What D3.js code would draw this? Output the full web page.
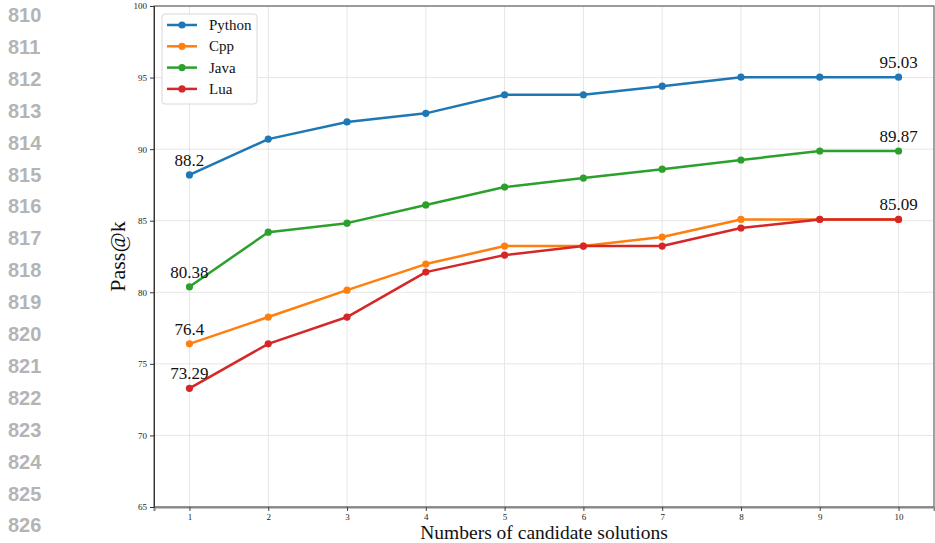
<!DOCTYPE html>
<html lang="en">
<head>
  <meta charset="UTF-8">
  <title>Pass@k vs candidates</title>
  <script src="https://cdn.jsdelivr.net/npm/d3@7"></script>
  <style>
    body { margin: 0; background: #fff; }
    svg { display: block; }
    .tick text { font-family: "Liberation Serif", serif; font-size: 9px; fill: #222; }
    .lineno { font-family: "Liberation Sans", Arial, sans-serif; font-weight: bold; font-size: 20px; fill: #b4b4b4; }
  </style>
</head>
<body>
  <svg id="chart" width="935" height="543"></svg>
  <script>
    // data
    const ks = [1, 2, 3, 4, 5, 6, 7, 8, 9, 10];
    const python = [88.2, 90.7, 91.9, 92.5, 93.8, 93.8, 94.4, 95.03, 95.03, 95.03];
    const cpp    = [76.4, 78.27, 80.15, 81.97, 83.23, 83.23, 83.86, 85.09, 85.09, 85.09];
    const java   = [80.38, 84.2, 84.83, 86.1, 87.35, 87.98, 88.6, 89.24, 89.87, 89.87];
    const lua    = [73.29, 76.4, 78.27, 81.41, 82.6, 83.23, 83.23, 84.49, 85.09, 85.09];
    const yTicks = [65, 70, 75, 80, 85, 90, 95, 100];
    const lineNumbers = d3.range(810, 827);

    const series = [
      { name: 'Python', values: python, color: '#1f77b4' },
      { name: 'Cpp',    values: cpp,    color: '#ff7f0e' },
      { name: 'Java',   values: java,   color: '#2ca02c' },
      { name: 'Lua',    values: lua,    color: '#d62728' }
    ];

    // annotated points: [series index, point index]
    const notes = [[0, 0], [0, 9], [2, 0], [2, 9], [1, 0], [3, 0], [1, 9]];

    const svg = d3.select('#chart');
    const pLeft = 154, pRight = 934, pTop = 6, pBottom = 507;

    // margin line numbers (from the page the figure was cut from)
    svg.selectAll('.lineno')
      .data(lineNumbers)
      .join('text')
        .attr('class', 'lineno')
        .attr('x', 8)
        .attr('y', (d, i) => 22 + i * 31.9)
        .text(d => d);

    const x = d3.scaleLinear().domain([0.55, 10.45]).range([pLeft, pRight]);
    const y = d3.scaleLinear().domain([65, 100]).range([pBottom, pTop]);

    // grid
    const grid = svg.append('g');
    grid.selectAll('.gx').data(ks).join('line')
      .attr('x1', d => x(d)).attr('x2', d => x(d))
      .attr('y1', pTop).attr('y2', pBottom)
      .attr('stroke', '#e6e6e6').attr('stroke-width', 1);
    grid.selectAll('.gy').data(yTicks).join('line')
      .attr('x1', pLeft).attr('x2', pRight)
      .attr('y1', d => y(d)).attr('y2', d => y(d))
      .attr('stroke', '#e6e6e6').attr('stroke-width', 1);

    // frame
    svg.append('rect')
      .attr('x', pLeft).attr('y', pTop)
      .attr('width', pRight - pLeft).attr('height', pBottom - pTop)
      .attr('fill', 'none').attr('stroke', '#444').attr('stroke-width', 1);

    // axes
    const xAxis = svg.append('g')
      .attr('transform', `translate(0,${pBottom})`)
      .call(d3.axisBottom(x).tickValues(ks).tickFormat(d3.format('d')).tickSize(4).tickPadding(3));
    xAxis.select('.domain').attr('stroke', '#888').attr('stroke-width', 2);
    xAxis.selectAll('.tick line').attr('stroke', '#444');

    const yAxis = svg.append('g')
      .attr('transform', `translate(${pLeft},0)`)
      .call(d3.axisLeft(y).tickValues(yTicks).tickSize(4).tickPadding(3));
    yAxis.select('.domain').attr('stroke', '#333');
    yAxis.selectAll('.tick line').attr('stroke', '#333');

    // lines
    const line = d3.line().x((d, i) => x(ks[i])).y(d => y(d));
    series.forEach(s => {
      const g = svg.append('g');
      g.append('path')
        .attr('d', line(s.values))
        .attr('fill', 'none')
        .attr('stroke', s.color)
        .attr('stroke-width', 2.5)
        .attr('stroke-linejoin', 'round');
      g.selectAll('circle').data(s.values).join('circle')
        .attr('cx', (d, i) => x(ks[i]))
        .attr('cy', d => y(d))
        .attr('r', 3.6)
        .attr('fill', s.color);
    });

    // value labels
    svg.selectAll('.note')
      .data(notes)
      .join('text')
        .attr('x', d => x(ks[d[1]]))
        .attr('y', d => y(series[d[0]].values[d[1]]) - 9)
        .attr('text-anchor', 'middle')
        .attr('font-family', '"Liberation Serif", serif')
        .attr('font-size', 17)
        .attr('fill', '#111')
        .text(d => series[d[0]].values[d[1]]);

    // axis titles
    svg.append('text')
      .attr('x', (pLeft + pRight) / 2)
      .attr('y', 539)
      .attr('text-anchor', 'middle')
      .attr('font-family', '"Liberation Serif", serif')
      .attr('font-size', 19.5)
      .attr('fill', '#111')
      .text('Numbers of candidate solutions');

    svg.append('text')
      .attr('transform', `translate(125,${(pTop + pBottom) / 2}) rotate(-90)`)
      .attr('text-anchor', 'middle')
      .attr('font-family', '"Liberation Serif", serif')
      .attr('font-size', 22)
      .attr('fill', '#111')
      .text('Pass@k');

    // legend
    const legend = svg.append('g').attr('transform', 'translate(162,14)');
    legend.append('rect')
      .attr('width', 95).attr('height', 90).attr('rx', 3)
      .attr('fill', '#fff').attr('fill-opacity', 0.85)
      .attr('stroke', '#d8d8d8');
    series.forEach((s, i) => {
      const row = legend.append('g').attr('transform', `translate(0,${11 + i * 21.3})`);
      row.append('line')
        .attr('x1', 5).attr('x2', 35)
        .attr('stroke', s.color).attr('stroke-width', 2.5);
      row.append('circle').attr('cx', 20).attr('r', 3.6).attr('fill', s.color);
      row.append('text')
        .attr('x', 47).attr('y', 5)
        .attr('font-family', '"Liberation Serif", serif')
        .attr('font-size', 15)
        .attr('fill', '#111')
        .text(s.name);
    });
  </script>
</body>
</html>
